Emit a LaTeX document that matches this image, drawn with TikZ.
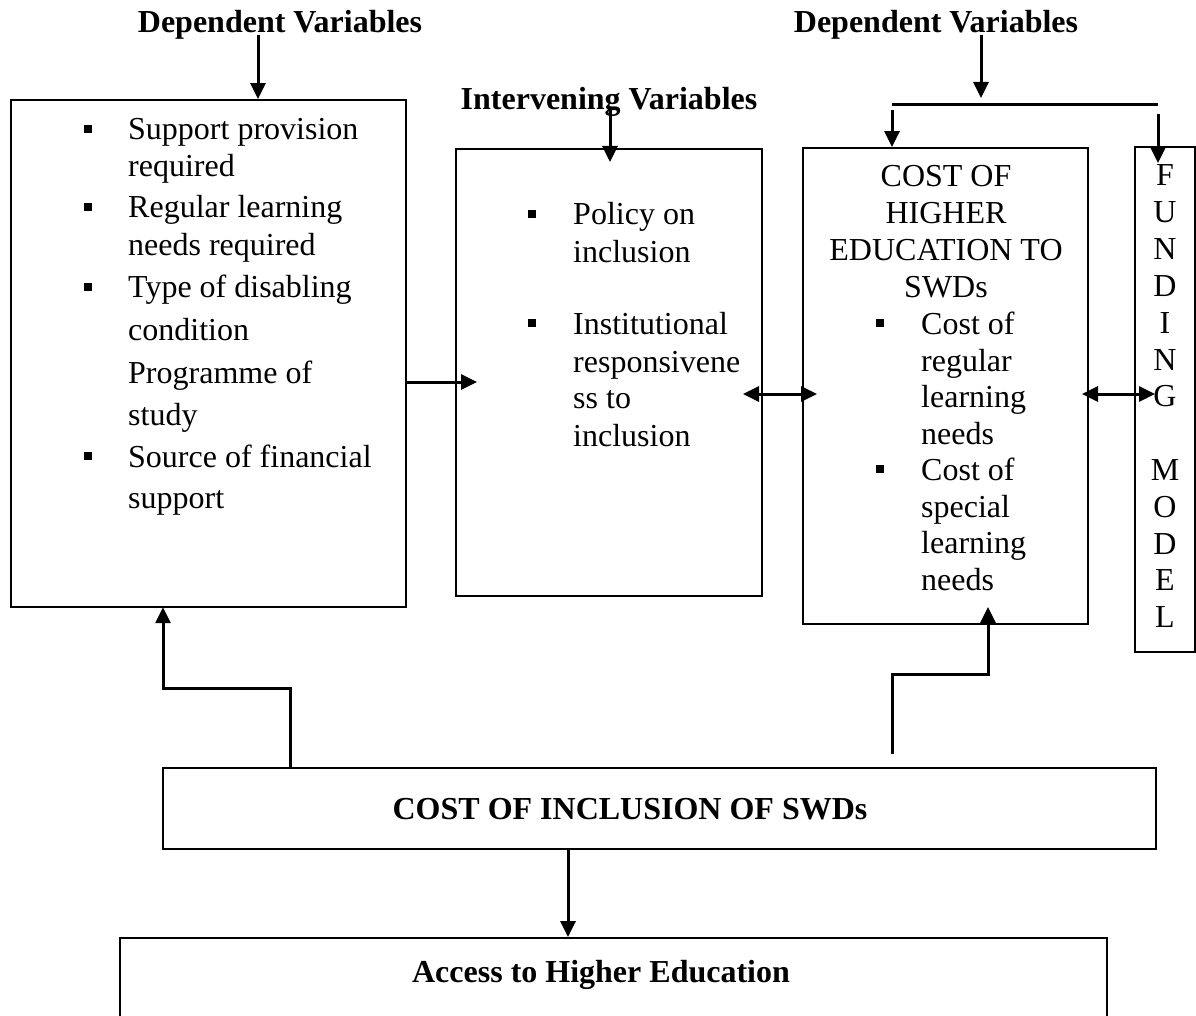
\documentclass[tikz,border=0pt]{standalone}
\usepackage{fontspec}
\setmainfont{Liberation Serif}
\usetikzlibrary{arrows.meta}

\tikzset{
  box/.style={draw, line width=1.8pt, inner sep=0pt},
  ln/.style={anchor=base west, inner sep=0pt, font=\fontsize{32}{37}\selectfont},
  lc/.style={anchor=base, inner sep=0pt, font=\fontsize{32}{37}\selectfont},
  hd/.style={anchor=base, inner sep=0pt, font=\fontsize{32}{37}\selectfont\bfseries},
  bul/.style={fill, inner sep=0pt, minimum size=8.5pt},
  tip/.tip={Triangle[width=15pt,length=16pt]},
  conn/.style={line width=3pt, -tip},
  dconn/.style={line width=3pt, tip-tip},
  plain/.style={line width=3pt}
}

\begin{document}
\begin{tikzpicture}[x=1pt,y=-1pt]
\useasboundingbox (0,0) rectangle (1196,1016);

% ---- boxes ----
\node[box, minimum width=395pt, minimum height=507pt] (dep)    at (208.5,353.5) {};
\node[box, minimum width=306pt, minimum height=447pt] (interv) at (609,372.5) {};
\node[box, minimum width=285pt, minimum height=476pt] (costhe) at (945.5,386) {};
\node[box, minimum width=60pt,  minimum height=505pt] (fund)   at (1165,399.5) {};
\node[box, minimum width=993pt, minimum height=81pt]  (incl)   at (659.5,808.5) {};
\node[box, minimum width=987pt, minimum height=82pt]  (access) at (613.5,979) {};

% ---- headings ----
\node[hd] (hdepL) at (280,33)  {Dependent Variables};
\node[hd] (hdepR) at (936,33)  {Dependent Variables};
\node[hd] (hint)  at (609,110) {Intervening Variables};
\node[hd] (tincl) at (630,819) {COST OF INCLUSION OF SWDs};
\node[hd] (tacc)  at (601,982) {Access to Higher Education};

% ---- left box ----
\node[ln] (d1)  at (128,140) {Support provision};
\node[ln] (d2)  at (128,177) {required};
\node[ln] (d3)  at (128,218) {Regular learning};
\node[ln] (d4)  at (128,256) {needs required};
\node[ln] (d5)  at (128,298) {Type of disabling};
\node[ln] (d6)  at (128,340) {condition};
\node[ln] (d7)  at (128,383) {Programme of};
\node[ln] (d8)  at (128,425) {study};
\node[ln] (d9)  at (128,467) {Source of financial};
\node[ln] (d10) at (128,508) {support};
\node[bul] (db1) at (88,129) {};
\node[bul] (db2) at (88,207) {};
\node[bul] (db3) at (88,287) {};
\node[bul] (db4) at (88,456) {};

% ---- intervening box ----
\node[ln] (i1) at (573,225) {Policy on};
\node[ln] (i2) at (573,262) {inclusion};
\node[ln] (i3) at (573,334) {Institutional};
\node[ln] (i4) at (573,372) {responsivene};
\node[ln] (i5) at (573,408) {ss to};
\node[ln] (i6) at (573,446) {inclusion};
\node[bul] (ib1) at (532,214) {};
\node[bul] (ib2) at (532,323) {};

% ---- cost of higher education box ----
\node[lc] (c1) at (946,187) {COST OF};
\node[lc] (c2) at (946,224) {HIGHER};
\node[lc] (c3) at (946,261) {EDUCATION TO};
\node[lc] (c4) at (946,297) {SWDs};
\node[ln] (c5)  at (921,334) {Cost of};
\node[ln] (c6)  at (921,371) {regular};
\node[ln] (c7)  at (921,407) {learning};
\node[ln] (c8)  at (921,444) {needs};
\node[ln] (c9)  at (921,480) {Cost of};
\node[ln] (c10) at (921,517) {special};
\node[ln] (c11) at (921,553) {learning};
\node[ln] (c12) at (921,590) {needs};
\node[bul] (cb1) at (880,323) {};
\node[bul] (cb2) at (880,469) {};

% ---- funding model column ----
\foreach \ch [count=\k from 0] in {F,U,N,D,I,N,G,{},M,O,D,E,L}
  \node[lc] (f\k) at (1165,186+36.8*\k) {\ch};

% ---- connectors ----
\coordinate (sL) at (258,35);
\draw[conn] (sL) -- (dep.north -| sL);

\coordinate (sI) at (610,108);
\coordinate (eI) at (610,162);
\draw[conn] (sI) -- (eI);

\coordinate (sR) at (981,35);
\coordinate (eR) at (981,98);
\draw[conn] (sR) -- (eR);
\coordinate (barL) at (892,105);
\coordinate (barR) at (1158,105);
\draw[plain] (barL) -- (barR);
\coordinate (aL) at (892,110);
\draw[conn] (aL) -- (costhe.north -| aL);
\coordinate (aR) at (1158,114);
\coordinate (aRe) at (1158,163);
\draw[conn] (aR) -- (aRe);

\coordinate (m1) at (477,382);
\draw[conn] (dep.east |- m1) -- (m1);

\coordinate (dA) at (743,394);
\coordinate (dB) at (817,394);
\draw[dconn] (dA) -- (dB);
\coordinate (dC) at (1082,394);
\coordinate (dD) at (1155,394);
\draw[dconn] (dC) -- (dD);

\coordinate (bl) at (290,768);
\draw[conn] (incl.north -| bl) |- (163,688) -- (163,607.2);

\coordinate (br) at (892,754);
\draw[conn] (br) |- (988,674) -- (988,607);

\coordinate (bc) at (568,849);
\draw[conn] (incl.south -| bc) -- (access.north -| bc);

\end{tikzpicture}
\end{document}
